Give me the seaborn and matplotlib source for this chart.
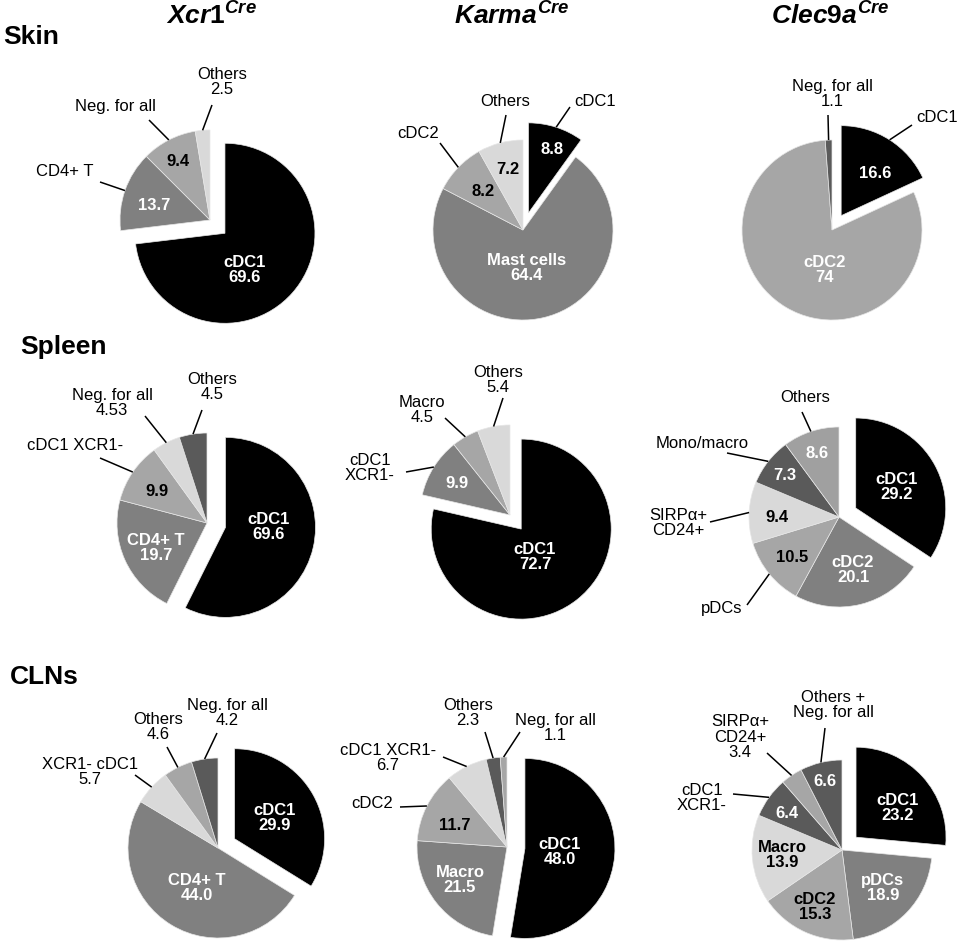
import numpy as np
import matplotlib
matplotlib.use("Agg")
import matplotlib.pyplot as plt
import seaborn as sns

sns.set_theme(style="white")
plt.rcParams['font.family'] = ['Liberation Sans', 'DejaVu Sans']
plt.rcParams['text.color'] = 'black'
plt.rcParams['mathtext.fontset'] = 'custom'
plt.rcParams['mathtext.it'] = 'Liberation Sans:italic:bold'
plt.rcParams['mathtext.rm'] = 'Liberation Sans:bold'
plt.rcParams['mathtext.bf'] = 'Liberation Sans:bold'

# data, clockwise from 12 o'clock (cDC1 always first)
skin_xcr1_labels = ['cDC1', 'CD4+ T', 'Neg. for all', 'Others']
skin_xcr1_values = [69.6, 13.7, 9.4, 2.5]
skin_xcr1_nums = ['69.6', '13.7', '9.4', '2.5']

skin_karma_labels = ['cDC1', 'Mast cells', 'cDC2', 'Others']
skin_karma_values = [8.8, 64.4, 8.2, 7.2]
skin_karma_nums = ['8.8', '64.4', '8.2', '7.2']

skin_clec9a_labels = ['cDC1', 'cDC2', 'Neg. for all']
skin_clec9a_values = [16.6, 74, 1.1]
skin_clec9a_nums = ['16.6', '74', '1.1']

spleen_xcr1_labels = ['cDC1', 'CD4+ T', 'cDC1 XCR1-', 'Neg. for all', 'Others']
# cDC1 wedge is drawn smaller in the figure than its printed 69.6
spleen_xcr1_values = [52.0, 19.7, 9.9, 4.53, 4.5]
spleen_xcr1_nums = ['69.6', '19.7', '9.9', '4.53', '4.5']

spleen_karma_labels = ['cDC1', 'cDC1\nXCR1-', 'Macro', 'Others']
spleen_karma_values = [72.7, 9.9, 4.5, 5.4]
spleen_karma_nums = ['72.7', '9.9', '4.5', '5.4']

spleen_clec9a_labels = ['cDC1', 'cDC2', 'pDCs', 'SIRPα+\nCD24+', 'Mono/macro', 'Others']
spleen_clec9a_values = [29.2, 20.1, 10.5, 9.4, 7.3, 8.6]
spleen_clec9a_nums = ['29.2', '20.1', '10.5', '9.4', '7.3', '8.6']

cln_xcr1_labels = ['cDC1', 'CD4+ T', 'XCR1- cDC1', 'Others', 'Neg. for all']
cln_xcr1_values = [29.9, 44.0, 5.7, 4.6, 4.2]
cln_xcr1_nums = ['29.9', '44.0', '5.7', '4.6', '4.2']

cln_karma_labels = ['cDC1', 'Macro', 'cDC2', 'cDC1 XCR1-', 'Others', 'Neg. for all']
cln_karma_values = [48.0, 21.5, 11.7, 6.7, 2.3, 1.1]
cln_karma_nums = ['48.0', '21.5', '11.7', '6.7', '2.3', '1.1']

cln_clec9a_labels = ['cDC1', 'pDCs', 'cDC2', 'Macro', 'cDC1\nXCR1-', 'SIRPα+\nCD24+', 'Others +\nNeg. for all']
cln_clec9a_values = [23.2, 18.9, 15.3, 13.9, 6.4, 3.4, 6.6]
cln_clec9a_nums = ['23.2', '18.9', '15.3', '13.9', '6.4', '3.4', '6.6']

col_titles = [r'$\mathit{Xcr1}^{\mathit{Cre}}$', r'$\mathit{Karma}^{\mathit{Cre}}$', r'$\mathit{Clec9a}^{\mathit{Cre}}$']
row_titles = ['Skin', 'Spleen', 'CLNs']

BLACK, DARK, MID, LIGHT, PALE = '#000000', '#5a5a5a', '#808080', '#a6a6a6', '#d9d9d9'
W, H = 957, 943
R = 90

fig = plt.figure(figsize=(W / 100, H / 100), dpi=100)
ax = fig.add_axes([0, 0, 1, 1])


def draw_panel(center, values, labels, nums, colors, shift, inside, outside):
    cx, cy = center[0], H - center[1]
    wedges, _ = ax.pie(values, colors=colors, startangle=90, counterclock=False,
                       radius=R, center=(cx, cy),
                       wedgeprops=dict(edgecolor='#e6e6e6', linewidth=0.5))
    w0 = wedges[0]
    m = np.deg2rad((w0.theta1 + w0.theta2) / 2)
    w0.set_center((cx + shift * np.cos(m), cy + shift * np.sin(m)))
    for i, x, y, with_name, col in inside:
        txt = labels[i] + '\n' + nums[i] if with_name else nums[i]
        ax.text(x, H - y, txt, ha='center', va='center', color=col,
                fontweight='bold', fontsize=12, linespacing=1.05)
    for i, tx, ty, lx, ly, with_num in outside:
        w = wedges[i]
        m = np.deg2rad((w.theta1 + w.theta2) / 2)
        ex = w.center[0] + w.r * np.cos(m)
        ey = w.center[1] + w.r * np.sin(m)
        ax.plot([lx, ex], [H - ly, ey], color='black', lw=1.1, solid_capstyle='butt')
        txt = labels[i] + ('\n' + nums[i] if with_num else '')
        ax.text(tx, H - ty, txt, ha='center', va='center', color='black',
                fontsize=12, linespacing=1.05)


# skin
draw_panel((210, 220), skin_xcr1_values, skin_xcr1_labels, skin_xcr1_nums,
           [BLACK, MID, LIGHT, PALE], 20,
           [(0, 245, 270, True, 'white'), (1, 154, 206, False, 'white'), (2, 178, 162, False, 'black')],
           [(1, 65, 172, 100, 182, False), (2, 115, 107, 149, 120, False), (3, 222, 82, 212, 105, True)])
draw_panel((523, 230), skin_karma_values, skin_karma_labels, skin_karma_nums,
           [BLACK, MID, LIGHT, PALE], 18,
           [(0, 552, 149, False, 'white'), (1, 527, 268, True, 'white'),
            (2, 483, 191, False, 'black'), (3, 508, 170, False, 'black')],
           [(0, 595, 101, 570, 107, False), (2, 418, 133, 440, 143, False), (3, 505, 101, 506, 115, False)])
draw_panel((832, 230), skin_clec9a_values, skin_clec9a_labels, skin_clec9a_nums,
           [BLACK, LIGHT, DARK], 17,
           [(0, 875, 173, False, 'white'), (1, 825, 270, True, 'white')],
           [(0, 937, 118, 912, 125, False), (2, 832, 94, 828, 115, True)])

# spleen
draw_panel((207, 523), spleen_xcr1_values, spleen_xcr1_labels, spleen_xcr1_nums,
           [BLACK, MID, LIGHT, PALE, DARK], 19,
           [(0, 269, 527, True, 'white'), (1, 156, 548, True, 'white'), (2, 157, 491, False, 'black')],
           [(2, 75, 445, 100, 458, False), (3, 112, 403, 145, 416, True), (4, 212, 387, 202, 410, True)])
draw_panel((510, 515), spleen_karma_values, spleen_karma_labels, spleen_karma_nums,
           [BLACK, MID, LIGHT, PALE], 18,
           [(0, 535, 557, True, 'white'), (1, 457, 484, False, 'white')],
           [(1, 370, 468, 406, 472, False), (2, 422, 410, 445, 418, True), (3, 498, 380, 503, 398, True)])
draw_panel((839, 517), spleen_clec9a_values, spleen_clec9a_labels, spleen_clec9a_nums,
           [BLACK, MID, LIGHT, PALE, DARK, '#a0a0a0'], 19,
           [(0, 897, 487, True, 'white'), (1, 853, 570, True, 'white'), (2, 792, 558, False, 'black'),
            (3, 777, 518, False, 'black'), (4, 785, 476, False, 'white'), (5, 817, 453, False, 'white')],
           [(2, 722, 608, 747, 605, False), (3, 678, 523, 710, 522, False),
            (4, 702, 443, 727, 453, False), (5, 805, 397, 802, 412, False)])

# CLNs
draw_panel((218, 848), cln_xcr1_values, cln_xcr1_labels, cln_xcr1_nums,
           [BLACK, MID, PALE, LIGHT, DARK], 19,
           [(0, 275, 818, True, 'white'), (1, 197, 888, True, 'white')],
           [(2, 90, 772, 135, 775, True), (3, 158, 727, 167, 747, True), (4, 227, 713, 217, 733, True)])
draw_panel((507, 847), cln_karma_values, cln_karma_labels, cln_karma_nums,
           [BLACK, MID, LIGHT, PALE, DARK, LIGHT], 18,
           [(0, 560, 852, True, 'white'), (1, 460, 880, True, 'white'), (2, 455, 825, False, 'black')],
           [(2, 372, 803, 400, 807, False), (3, 388, 758, 443, 757, True),
            (4, 468, 713, 485, 732, True), (5, 555, 728, 520, 732, True)])
draw_panel((842, 850), cln_clec9a_values, cln_clec9a_labels, cln_clec9a_nums,
           [BLACK, MID, LIGHT, PALE, DARK, LIGHT, DARK], 19,
           [(0, 898, 808, True, 'white'), (1, 883, 888, True, 'white'), (2, 815, 907, True, 'black'),
            (3, 782, 855, True, 'black'), (4, 787, 813, False, 'white'), (6, 825, 782, False, 'white')],
           [(4, 702, 798, 733, 794, False), (5, 740, 737, 767, 753, True), (6, 833, 705, 825, 728, False)])

for t, x in zip(col_titles, [211, 512, 830]):
    ax.text(x, H - 25, t, ha='center', va='baseline', fontsize=19, color='black')
for t, (x, y) in zip(row_titles, [(3, 37), (20, 347), (10, 677)]):
    ax.text(x, H - y, t, ha='left', va='center', fontsize=19, fontweight='bold', color='black')

ax.set_xlim(0, W)
ax.set_ylim(0, H)
ax.set_aspect('equal')
ax.axis('off')
fig.savefig('out.png', dpi=100, facecolor='white')
